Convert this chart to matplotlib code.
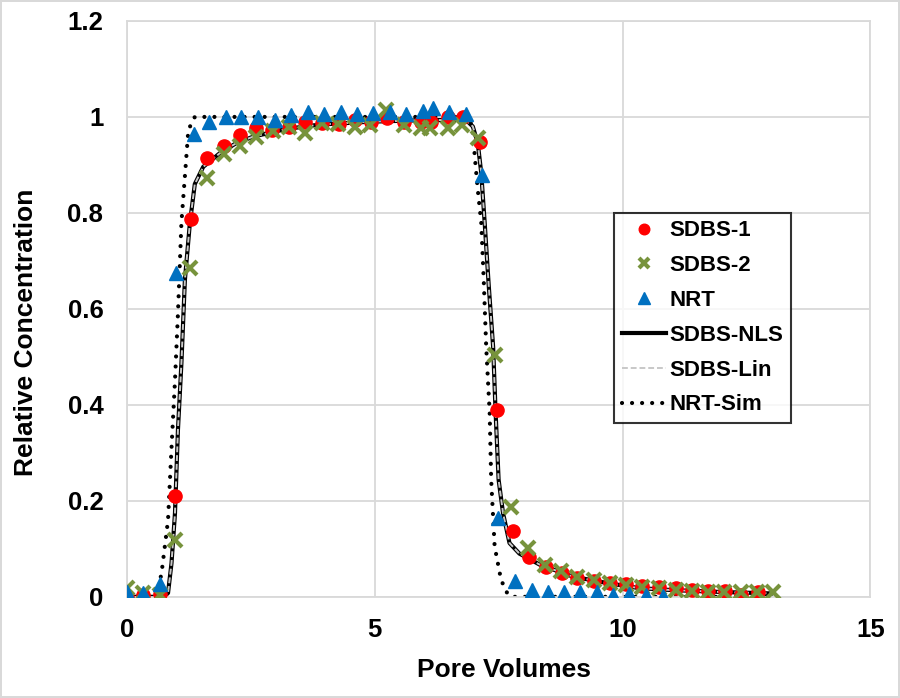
import matplotlib
matplotlib.use("Agg")
import matplotlib.pyplot as plt

# measured data (pore volumes, relative concentration)
sdbs1_pv = [0, 0.33, 0.66, 0.97, 1.29, 1.62, 1.95, 2.28, 2.6, 2.93, 3.27, 3.6, 3.94,
            4.27, 4.6, 4.93, 5.25, 5.6, 5.94, 6.14, 6.47, 6.79, 7.12, 7.47, 7.79,
            8.11, 8.45, 8.77, 9.09, 9.42, 9.75, 10.08, 10.4, 10.74, 11.07, 11.41,
            11.73, 12.06, 12.4, 12.73]
sdbs1_c = [0.0, 0.003, 0.006, 0.21, 0.787, 0.914, 0.94, 0.962, 0.976, 0.972, 0.98,
           0.99, 0.987, 0.985, 0.994, 0.99, 0.997, 0.99, 0.99, 0.99, 1.0, 1.0, 0.947,
           0.39, 0.138, 0.083, 0.062, 0.049, 0.04, 0.033, 0.029, 0.027, 0.023, 0.02,
           0.018, 0.015, 0.013, 0.013, 0.004, 0.011]

sdbs2_pv = [0, 0.33, 0.66, 0.97, 1.27, 1.62, 1.95, 2.28, 2.6, 2.94, 3.27, 3.59, 3.94,
            4.26, 4.6, 4.91, 5.22, 5.6, 5.94, 6.11, 6.47, 6.77, 7.09, 7.42, 7.76,
            8.09, 8.43, 8.76, 9.08, 9.42, 9.74, 10.07, 10.4, 10.73, 11.07, 11.4,
            11.72, 12.05, 12.39, 12.72, 13.04]
sdbs2_c = [0.018, 0.008, 0.004, 0.119, 0.686, 0.872, 0.922, 0.94, 0.959, 0.971, 0.98,
           0.966, 0.987, 0.985, 0.978, 0.983, 1.014, 0.983, 0.977, 0.977, 0.977, 0.983,
           0.957, 0.504, 0.188, 0.101, 0.067, 0.053, 0.042, 0.035, 0.029, 0.025, 0.02,
           0.018, 0.015, 0.013, 0.011, 0.011, 0.011, 0.011, 0.009]

nrt_pv = [0, 0.33, 0.66, 0.99, 1.35, 1.66, 2.0, 2.31, 2.65, 2.98, 3.32, 3.66, 3.97,
          4.31, 4.64, 4.97, 5.3, 5.64, 5.98, 6.18, 6.5, 6.84, 7.17, 7.49, 7.84, 8.18,
          8.49, 8.81, 9.15, 9.48, 9.81, 10.14, 10.48, 10.82]
nrt_c = [0.011, 0.008, 0.027, 0.675, 0.964, 0.99, 1.0, 1.0, 1.0, 0.994, 1.004, 1.011,
         1.006, 1.011, 1.006, 1.008, 1.011, 1.007, 1.012, 1.018, 1.011, 1.007, 0.879,
         0.164, 0.032, 0.015, 0.011, 0.009, 0.009, 0.009, 0.004, 0.006, 0.004, 0.001]

# fitted / simulated curves
nls_pv = [0, 0.75, 0.83, 0.9, 0.97, 1.03, 1.1, 1.17, 1.27, 1.37, 1.54, 1.87, 2.2,
          2.55, 3.22, 3.89, 4.9, 5.9, 6.84, 6.98, 7.08, 7.15, 7.22, 7.3, 7.39, 7.44,
          7.5, 7.59, 7.72, 7.92, 8.33, 9.0, 9.67, 10.34, 11.0, 12.0, 13.0]
nls_c = [0, 0.0, 0.008, 0.07, 0.174, 0.348, 0.487, 0.66, 0.778, 0.86, 0.896, 0.924,
         0.945, 0.959, 0.975, 0.984, 0.99, 0.993, 0.994, 0.98, 0.945, 0.883, 0.778,
         0.65, 0.52, 0.383, 0.244, 0.174, 0.112, 0.09, 0.067, 0.042, 0.029, 0.018,
         0.014, 0.01, 0.007]

lin_pv = [0, 0.75, 0.83, 0.9, 0.97, 1.03, 1.1, 1.17, 1.27, 1.37, 1.54, 1.87, 2.2,
          2.55, 3.22, 3.89, 4.9, 5.9, 6.84, 6.98, 7.08, 7.15, 7.22, 7.3, 7.39, 7.44,
          7.5, 7.59, 7.72, 7.92, 8.33, 9.0, 9.67, 10.34, 11.0, 12.0, 13.0]
lin_c = [0, 0.0, 0.008, 0.07, 0.174, 0.348, 0.487, 0.66, 0.778, 0.86, 0.896, 0.924,
         0.945, 0.959, 0.975, 0.984, 0.99, 0.993, 0.994, 0.98, 0.945, 0.883, 0.778,
         0.65, 0.52, 0.383, 0.244, 0.174, 0.112, 0.09, 0.067, 0.042, 0.029, 0.018,
         0.014, 0.01, 0.007]

sim_pv = [0, 0.6, 0.7, 0.83, 0.9, 0.97, 1.03, 1.1, 1.17, 1.24, 1.37, 6.9, 6.98, 7.02,
          7.08, 7.15, 7.2, 7.25, 7.32, 7.35, 7.42, 7.55, 7.69, 7.8, 13.0]
sim_c = [0, 0.0, 0.05, 0.16, 0.31, 0.45, 0.59, 0.78, 0.876, 0.973, 1.0, 1.0, 0.973,
         0.917, 0.848, 0.779, 0.66, 0.52, 0.383, 0.244, 0.105, 0.035, 0.004, 0.0, 0.0]

plt.rcParams['font.family'] = ['Liberation Sans', 'DejaVu Sans']
plt.rcParams['font.weight'] = 'bold'

fig = plt.figure(figsize=(9, 6.98), dpi=100)
fig.patch.set_edgecolor('#D9D9D9')
fig.patch.set_linewidth(1.5)
ax = fig.add_axes([0.141, 0.145, 0.826, 0.825])

grey = '#D9D9D9'
ax.plot(nls_pv, nls_c, color='black', lw=3.0, zorder=2, label='SDBS-NLS')
ax.plot(lin_pv, lin_c, color='#C8C8C8', lw=1.4, ls=(0, (3, 1.5)), zorder=2.1, label='SDBS-Lin')
ax.plot(sim_pv, sim_c, color='black', lw=3.0, ls=(0, (0.01, 2.4)),
        dash_capstyle='round', zorder=2.2, label='NRT-Sim')

ax.plot(sdbs1_pv, sdbs1_c, 'o', color='#FF0000', ms=9.5, mec='#FF0000', zorder=3, label='SDBS-1')
ax.plot(sdbs2_pv, sdbs2_c, 'x', color='#77933C', ms=9.5, mew=3, zorder=3.1, label='SDBS-2')
ax.plot(nrt_pv, nrt_c, '^', color='#0070C0', ms=10.5, mec='#0070C0', zorder=3.2, label='NRT')

ax.set_xlim(0, 15)
ax.set_ylim(0, 1.2)
ax.set_xticks([0, 5, 10, 15])
ax.set_yticks([0, 0.2, 0.4, 0.6, 0.8, 1.0, 1.2])
ax.set_yticklabels(['0', '0.2', '0.4', '0.6', '0.8', '1', '1.2'])
ax.tick_params(length=0, labelsize=18.5)
ax.tick_params(axis='x', pad=15)
ax.tick_params(axis='y', pad=17)
for lab in ax.get_xticklabels() + ax.get_yticklabels():
    lab.set_fontweight('bold')
ax.grid(True, color=grey, lw=1.3)
ax.set_axisbelow(True)
for s in ax.spines.values():
    s.set_color(grey)
    s.set_linewidth(1.3)

ax.set_xlabel('Pore Volumes', fontsize=19, fontweight='bold')
ax.set_ylabel('Relative Concentration', fontsize=19, fontweight='bold')
ax.xaxis.set_label_coords(0.507, -0.106)
ax.yaxis.set_label_coords(-0.136, 0.46)
ax.yaxis.label.set_va('center')

handles, labels = ax.get_legend_handles_labels()
order = [3, 4, 5, 0, 1, 2]
leg = ax.legend([handles[i] for i in order], [labels[i] for i in order],
                loc='upper left', bbox_to_anchor=(0.655, 0.667), fontsize=16,
                frameon=True, fancybox=False, handlelength=2.0, handletextpad=0.15,
                labelspacing=0.62, borderpad=0.35, borderaxespad=0, markerscale=0.8)
leg.get_frame().set_edgecolor('black')
leg.get_frame().set_linewidth(1.5)
for t in leg.get_texts():
    t.set_fontweight('bold')

fig.savefig('out.png', dpi=100)
